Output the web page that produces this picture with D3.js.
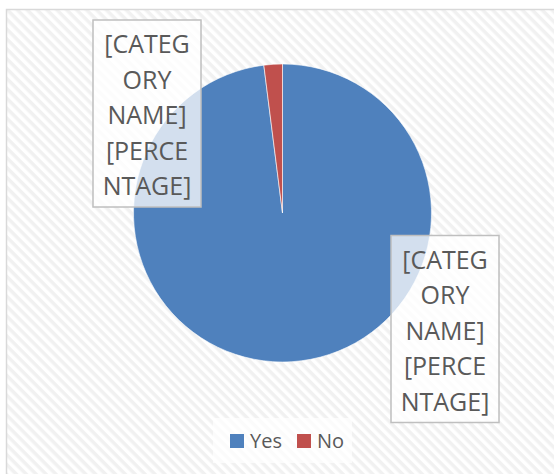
<!DOCTYPE html>
<html>
<head>
<meta charset="utf-8">
<script src="https://cdn.jsdelivr.net/npm/d3@7"></script>
<style>
  html, body { margin: 0; padding: 0; background: #ffffff; }
  svg { display: block; }
</style>
</head>
<body>
<svg id="chart" width="554" height="474"></svg>
<script>
const categories = ["Yes", "No"];
const values = [98, 2];
const colors = ["#4F81BD", "#C0504D"];
const labelLines = ["[CATEG", "ORY", "NAME]", "[PERCE", "NTAGE]"];

const svg = d3.select("#chart");
const defs = svg.append("defs");
const pat = defs.append("pattern")
  .attr("id", "hatch")
  .attr("patternUnits", "userSpaceOnUse")
  .attr("width", 7).attr("height", 7)
  .attr("patternTransform", "rotate(45)");
pat.append("rect").attr("width", 7).attr("height", 7).attr("fill", "#ffffff");
pat.append("rect").attr("width", 7).attr("height", 3.5).attr("fill", "#f1f1f1");

// chart area background + border
svg.append("rect")
  .attr("x", 6.5).attr("y", 9.5)
  .attr("width", 560).attr("height", 480)
  .attr("fill", "url(#hatch)")
  .attr("stroke", "#d9d9d9").attr("stroke-width", 1.5);

const cx = 282.5, cy = 213, r = 149;
const pie = d3.pie().sort(null).value(d => d);
const arcs = pie(values);
const arc = d3.arc().innerRadius(0).outerRadius(r);

const g = svg.append("g").attr("transform", `translate(${cx},${cy})`);
g.selectAll("path").data(arcs).enter().append("path")
  .attr("d", arc)
  .attr("fill", (d, i) => colors[i])
  .attr("stroke", "#ffffff").attr("stroke-width", 0.6);

// data labels (boxes)
const labelBoxes = [
  { cat: 1, x: 93, y: 20, w: 108, h: 187 },
  { cat: 0, x: 391, y: 235.5, w: 108, h: 187 }
];
labelBoxes.forEach(b => {
  const lg = svg.append("g");
  lg.append("rect")
    .attr("x", b.x).attr("y", b.y).attr("width", b.w).attr("height", b.h)
    .attr("fill", "rgba(255,255,255,0.75)")
    .attr("stroke", "#bfbfbf").attr("stroke-width", 1.5);
  lg.selectAll("text").data(labelLines).enter().append("text")
    .attr("x", b.x + b.w / 2)
    .attr("y", (d, i) => b.y + 33 + i * 35.6)
    .attr("text-anchor", "middle")
    .attr("font-family", "Open Sans, sans-serif")
    .attr("font-size", 25)
    .attr("fill", "#595959")
    .text(d => d);
});

// legend
const lgx = [230, 297];
const leg = svg.append("g");
leg.append("rect")
  .attr("x", 213).attr("y", 418).attr("width", 139).attr("height", 45)
  .attr("fill", "rgba(255,255,255,0.7)");
categories.forEach((c, i) => {
  leg.append("rect")
    .attr("x", lgx[i]).attr("y", 434).attr("width", 14).attr("height", 14)
    .attr("fill", colors[i]);
  leg.append("text")
    .attr("x", lgx[i] + 20).attr("y", 448)
    .attr("font-family", "Open Sans, sans-serif")
    .attr("font-size", 20)
    .attr("fill", "#595959")
    .text(c);
});
</script>
</body>
</html>
